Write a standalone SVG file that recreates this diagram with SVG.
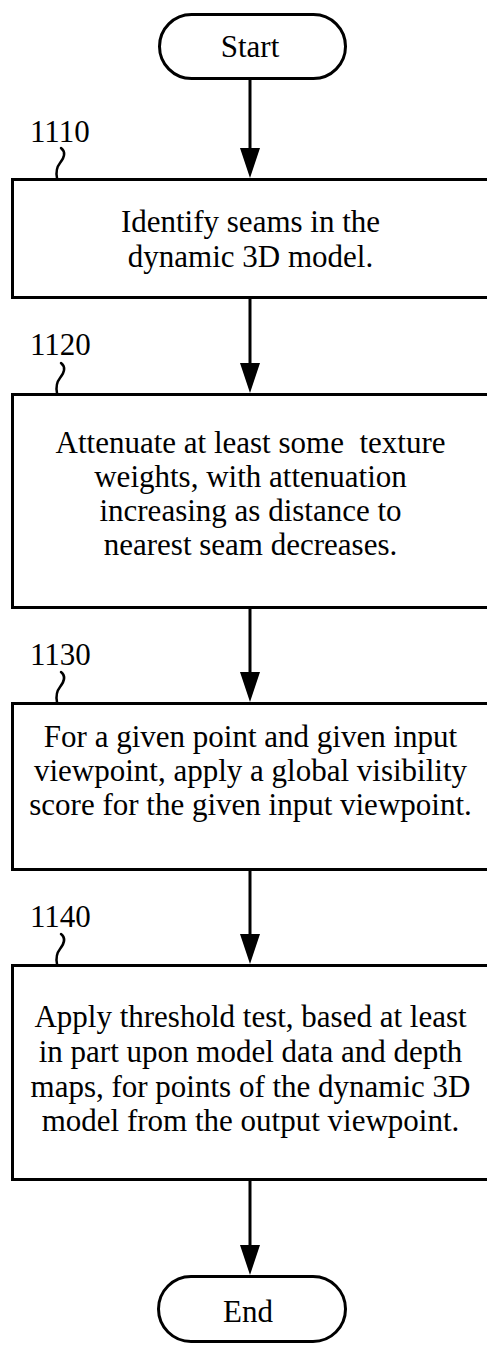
<svg xmlns="http://www.w3.org/2000/svg" width="487" height="1345" viewBox="0 0 487 1345">
  <style>
    .box { fill: #fff; stroke: #000; stroke-width: 3; }
    .term { fill: #fff; stroke: #000; stroke-width: 3; }
    .txt { font-family: 'Liberation Serif', 'DejaVu Serif', 'Times New Roman', serif; font-size: 31px; fill: #000; text-anchor: middle; white-space: pre; }
    .ref { font-family: 'Liberation Serif', 'DejaVu Serif', 'Times New Roman', serif; font-size: 31px; fill: #000; }
    .lead { fill: none; stroke: #000; stroke-width: 2.5; stroke-linecap: round; }
    .flow { fill: none; stroke: #000; stroke-width: 3; marker-end: url(#arrow); }
  </style>
  <defs>
    <marker id="arrow" viewBox="0 0 30 20" refX="15" refY="10" markerWidth="30" markerHeight="20" markerUnits="userSpaceOnUse" orient="auto">
      <path d="M0,0 L30,10 L0,20 Z" fill="#000"/>
    </marker>
  </defs>
  <rect width="487" height="1345" fill="#fff"/>

  <!-- flow connectors -->
  <g id="connectors">
    <path class="flow" d="M250,80 V163"/>
    <path class="flow" d="M250,299 V378"/>
    <path class="flow" d="M250,609 V687"/>
    <path class="flow" d="M250,871 V949"/>
    <path class="flow" d="M250,1181 V1260"/>
  </g>

  <g id="start">
    <rect class="term" x="159.5" y="14.5" width="186" height="64" rx="32" ry="32"/>
    <text class="txt" x="250" y="57" font-family="Liberation Serif, serif">Start</text>
  </g>

  <g id="step1110">
    <rect class="box" x="12.5" y="179.5" width="476" height="118"/>
    <text class="ref" x="30" y="142" font-family="Liberation Serif, serif">1110</text>
    <path class="lead" d="M61,148 C66,152 64,158 60,163 C56,168 56,173 57,178"/>
    <text class="txt" x="250.5" y="232" font-family="Liberation Serif, serif">Identify seams in the</text>
    <text class="txt" x="250.5" y="267" font-family="Liberation Serif, serif">dynamic 3D model.</text>
  </g>

  <g id="step1120">
    <rect class="box" x="12.5" y="394.5" width="476" height="213"/>
    <text class="ref" x="30" y="355" font-family="Liberation Serif, serif">1120</text>
    <path class="lead" d="M61,363 C66,367 64,373 60,378 C56,383 56,388 57,393"/>
    <text class="txt" x="250.5" y="453" font-family="Liberation Serif, serif">Attenuate at least some  texture</text>
    <text class="txt" x="250.5" y="487" font-family="Liberation Serif, serif">weights, with attenuation</text>
    <text class="txt" x="250.5" y="521" font-family="Liberation Serif, serif">increasing as distance to</text>
    <text class="txt" x="250.5" y="555" font-family="Liberation Serif, serif">nearest seam decreases.</text>
  </g>

  <g id="step1130">
    <rect class="box" x="12.5" y="703.5" width="476" height="166"/>
    <text class="ref" x="30" y="665" font-family="Liberation Serif, serif">1130</text>
    <path class="lead" d="M61,672 C66,676 64,682 60,687 C56,692 56,697 57,702"/>
    <text class="txt" x="250.5" y="747" font-family="Liberation Serif, serif">For a given point and given input</text>
    <text class="txt" x="250.5" y="781" font-family="Liberation Serif, serif">viewpoint, apply a global visibility</text>
    <text class="txt" x="250.5" y="815" font-family="Liberation Serif, serif">score for the given input viewpoint.</text>
  </g>

  <g id="step1140">
    <rect class="box" x="12.5" y="965.5" width="476" height="214"/>
    <text class="ref" x="30" y="927" font-family="Liberation Serif, serif">1140</text>
    <path class="lead" d="M61,934 C66,938 64,944 60,949 C56,954 56,959 57,964"/>
    <text class="txt" x="250.5" y="1027" font-family="Liberation Serif, serif">Apply threshold test, based at least</text>
    <text class="txt" x="250.5" y="1062" font-family="Liberation Serif, serif">in part upon model data and depth</text>
    <text class="txt" x="250.5" y="1097" font-family="Liberation Serif, serif">maps, for points of the dynamic 3D</text>
    <text class="txt" x="250.5" y="1131" font-family="Liberation Serif, serif">model from the output viewpoint.</text>
  </g>

  <g id="end">
    <rect class="term" x="158.5" y="1276.5" width="187" height="65" rx="32.5" ry="32.5"/>
    <text class="txt" x="248" y="1322" font-family="Liberation Serif, serif">End</text>
  </g>
</svg>
